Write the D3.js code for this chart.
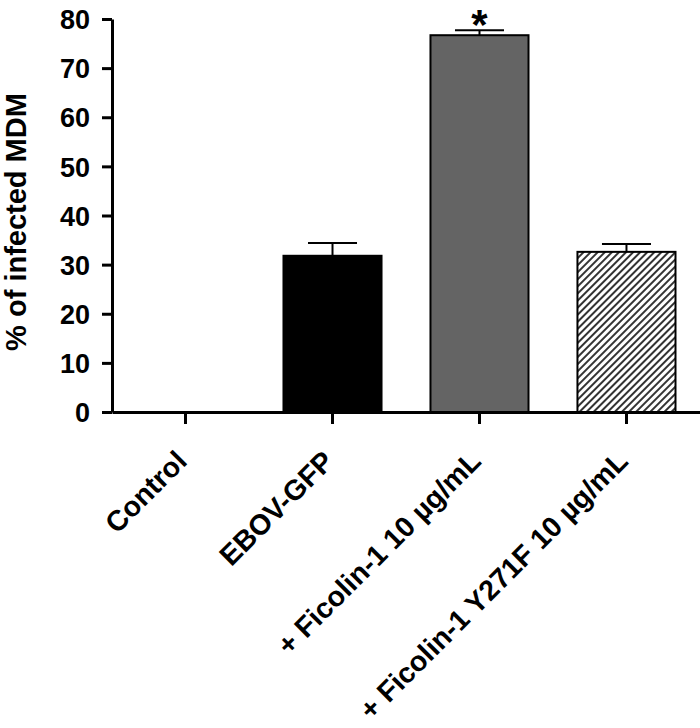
<!DOCTYPE html>
<html>
<head>
<meta charset="utf-8">
<script src="https://cdn.jsdelivr.net/npm/d3@7"></script>
<style>
  body { margin: 0; background: #fff; }
  svg text { font-family: "Liberation Sans", Arial, sans-serif; font-weight: bold; fill: #000; }
</style>
</head>
<body>
<svg width="700" height="728"></svg>
<script>
// data
const groups = ["Control", "EBOV-GFP", "+ Ficolin-1 10 \u00b5g/mL", "+ Ficolin-1 Y271F 10 \u00b5g/mL"];
const means = [0, 31.8, 76.7, 32.6];
const errUp = [0, 2.6, 1.0, 1.6];
const signif = ["", "", "*", ""];
const yTicks = [0, 10, 20, 30, 40, 50, 60, 70, 80];

const fills = ["none", "#000", "#646464", "url(#hatch)"];

const svg = d3.select("svg");

// hatch for the mutant bar
const defs = svg.append("defs");
defs.append("pattern")
    .attr("id", "hatch")
    .attr("patternUnits", "userSpaceOnUse")
    .attr("width", 5)
    .attr("height", 5)
    .attr("patternTransform", "rotate(45)")
  .append("line")
    .attr("x1", 1).attr("y1", 0)
    .attr("x2", 1).attr("y2", 5)
    .attr("stroke", "#000")
    .attr("stroke-width", 1.6);

const x = d3.scaleBand()
    .domain(groups)
    .range([112, 700])
    .paddingInner(0.333)
    .paddingOuter(0.1667);

const y = d3.scaleLinear().domain([0, 80]).range([412, 19]);

const data = groups.map((g, i) => ({g: g, v: means[i], e: errUp[i], s: signif[i], f: fills[i]}));

// bars
svg.selectAll(".bar")
  .data(data.filter(d => d.v > 0))
  .enter().append("rect")
    .attr("class", "bar")
    .attr("x", d => x(d.g))
    .attr("y", d => y(d.v))
    .attr("width", x.bandwidth())
    .attr("height", d => y(0) - y(d.v))
    .attr("fill", d => d.f)
    .attr("stroke", "#000")
    .attr("stroke-width", 2);

// upper error bars
const eb = svg.selectAll(".err")
  .data(data.filter(d => d.e > 0))
  .enter().append("g").attr("class", "err")
    .attr("stroke", "#000").attr("stroke-width", 2);
eb.append("line")
    .attr("x1", d => x(d.g) + x.bandwidth() / 2)
    .attr("x2", d => x(d.g) + x.bandwidth() / 2)
    .attr("y1", d => y(d.v))
    .attr("y2", d => y(d.v + d.e));
eb.append("line")
    .attr("x1", d => x(d.g) + x.bandwidth() / 4)
    .attr("x2", d => x(d.g) + x.bandwidth() * 3 / 4)
    .attr("y1", d => y(d.v + d.e))
    .attr("y2", d => y(d.v + d.e));

// significance star
svg.selectAll(".star")
  .data(data.filter(d => d.s))
  .enter().append("text")
    .attr("class", "star")
    .attr("x", d => x(d.g) + x.bandwidth() / 2)
    .attr("y", d => y(d.v + d.e) + 9)
    .attr("text-anchor", "middle")
    .style("font-size", "42px")
    .text(d => d.s);

// y axis
const yAxis = svg.append("g")
    .attr("transform", "translate(112,0)")
    .call(d3.axisLeft(y).tickValues(yTicks).tickSize(10).tickPadding(12).tickSizeOuter(0));
yAxis.select(".domain").attr("stroke-width", 3);
yAxis.selectAll(".tick line").attr("stroke-width", 3);
yAxis.selectAll(".tick text").style("font-size", "27px").attr("dy", "0.36em");

// x axis
const xAxis = svg.append("g")
    .attr("transform", "translate(0,412)")
    .call(d3.axisBottom(x).tickSize(12).tickSizeOuter(0));
xAxis.select(".domain").attr("stroke-width", 3);
xAxis.selectAll(".tick line").attr("stroke-width", 3);
xAxis.selectAll(".tick text")
    .style("font-size", "28.5px")
    .attr("text-anchor", "end")
    .attr("dy", null)
    .attr("y", 0)
    .attr("transform", "translate(3,51) rotate(-45)");

// y title
svg.append("text")
    .attr("transform", "translate(26,222) rotate(-90)")
    .attr("text-anchor", "middle")
    .style("font-size", "29px")
    .text("% of infected MDM");
</script>
</body>
</html>
